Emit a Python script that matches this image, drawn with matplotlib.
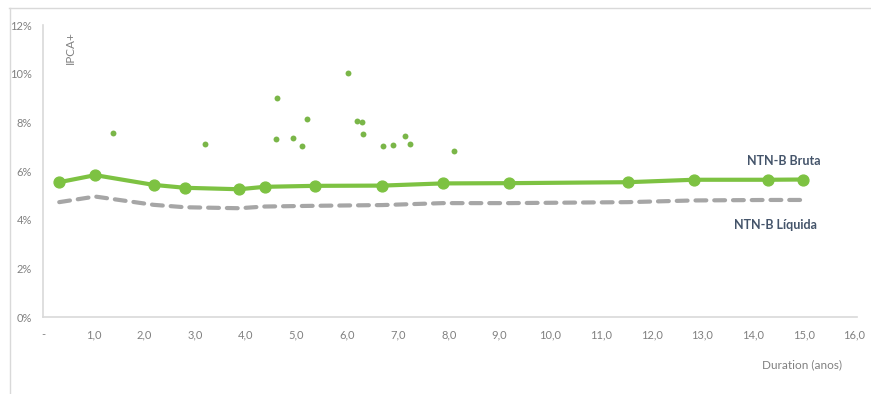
import matplotlib
matplotlib.use("Agg")
import matplotlib.pyplot as plt
from matplotlib.lines import Line2D

# Data
curve_x = [0.32, 1.03, 2.18, 2.80, 3.87, 4.37, 5.36, 6.69, 7.88, 9.18, 11.53, 12.83, 14.30, 14.99]
bruta = [5.54, 5.83, 5.43, 5.31, 5.25, 5.35, 5.39, 5.40, 5.49, 5.50, 5.54, 5.64, 5.64, 5.65]
liquida = [4.72, 4.95, 4.61, 4.51, 4.47, 4.54, 4.57, 4.60, 4.68, 4.68, 4.72, 4.79, 4.81, 4.81]
scatter_x = [1.39, 3.20, 4.62, 4.59, 4.92, 6.01, 5.20, 5.11, 6.20, 6.29, 6.30, 6.70, 6.91, 7.13, 7.24, 8.10]
scatter_y = [7.56, 7.12, 9.02, 7.30, 7.37, 10.03, 8.15, 7.04, 8.04, 8.00, 7.53, 7.01, 7.08, 7.45, 7.11, 6.82]
x_ticks = [0, 1, 2, 3, 4, 5, 6, 7, 8, 9, 10, 11, 12, 13, 14, 15, 16]
x_labels = ["-"] + [f"{v},0" for v in x_ticks[1:]]
y_ticks = [0, 2, 4, 6, 8, 10, 12]
y_labels = [f"{v}%" for v in y_ticks]

plt.rcParams['font.family'] = ['Lato', 'DejaVu Sans']

W, H = 871, 394
fig = plt.figure(figsize=(W / 100, H / 100), dpi=100)
ax = fig.add_axes([43 / W, (H - 317) / H, (857 - 43) / W, (317 - 25) / H])

green = '#7DC242'
dot = '#7AB648'
gray = '#A6A6A6'
txt = '#808080'
navy = '#44546A'

ax.plot(curve_x, liquida, color=gray, lw=3, ls=(0, (2.6, 1.9)), dash_capstyle='round', zorder=2)
ax.plot(curve_x, bruta, color=green, lw=3, marker='o', ms=7.8, zorder=3)
ax.scatter(scatter_x, scatter_y, s=18, color=dot, zorder=4, linewidths=0)

ax.set_xlim(0, 16.05)
ax.set_ylim(0, 12)
ax.set_xticks(x_ticks)
ax.set_xticklabels(x_labels)
ax.set_yticks(y_ticks)
ax.set_yticklabels(y_labels)
ax.tick_params(axis='both', length=0, labelsize=8, labelcolor=txt)
ax.tick_params(axis='x', pad=9)
ax.tick_params(axis='y', pad=8)

for s in ['top', 'right']:
    ax.spines[s].set_visible(False)
for s in ['left', 'bottom']:
    ax.spines[s].set_color('#D9D9D9')
    ax.spines[s].set_linewidth(1.2)

ax.text(14.6, 6.4, "NTN-B Bruta", color=navy, fontsize=9, fontweight='bold', ha='center', va='center')
ax.text(14.45, 3.8, "NTN-B Líquida", color=navy, fontsize=9, fontweight='bold', ha='center', va='center')
fig.text(802 / W, 1 - 365 / H, "Duration (anos)", color=txt, fontsize=8.5, ha='center', va='center')
fig.text(70 / W, 1 - 48 / H, "IPCA+", color=txt, fontsize=8.5, ha='center', va='center', rotation=90)

# outer frame
fig.add_artist(Line2D([9 / W, 870 / W], [1 - 7.5 / H, 1 - 7.5 / H], color='#D9D9D9', lw=1, transform=fig.transFigure))
fig.add_artist(Line2D([9.5 / W, 9.5 / W], [0, 1 - 7.5 / H], color='#D9D9D9', lw=1, transform=fig.transFigure))

fig.savefig("out.png", dpi=100, facecolor='white')
